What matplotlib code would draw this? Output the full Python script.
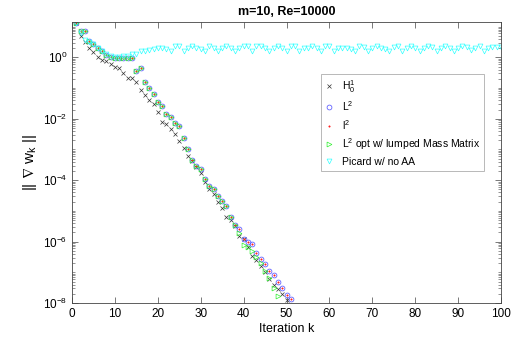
"""
Convergence of ||grad w_k|| for m=10, Re=10000.
"""
import numpy as np
import matplotlib
matplotlib.use('Agg')
import matplotlib.pyplot as plt
from matplotlib.ticker import LogLocator, NullFormatter, FixedLocator

plt.rcParams['font.family'] = ['Liberation Sans', 'DejaVu Sans']
plt.rcParams['mathtext.fontset'] = 'custom'
plt.rcParams['mathtext.rm'] = 'Liberation Sans'
plt.rcParams['mathtext.it'] = 'Liberation Sans'
plt.rcParams['mathtext.default'] = 'regular'

# log10 of ||grad w_k||, iterations start at k=1
h01_log = [1.11, 0.70, 0.49, 0.31, 0.16, 0.02, -0.08, -0.11, -0.22, -0.30,
           -0.36, -0.50, -0.68, -0.68, -0.79, -1.06, -1.22, -1.39, -1.53, -1.79,
           -2.12, -2.18, -2.32, -2.50, -2.72, -2.94, -3.20, -3.37, -3.56, -3.76,
           -4.05, -4.29, -4.45, -4.72, -4.92, -5.20, -5.30, -5.48, -5.81, -5.92,
           -6.17, -6.47, -6.60, -6.79, -6.99, -7.22, -7.41, -7.54, -7.71, -7.90]
L2_log = [1.11, 0.86, 0.86, 0.54, 0.43, 0.30, 0.22, 0.09, 0.02, -0.01,
          -0.01, -0.01, -0.01, -0.03, -0.45, -0.36, -0.79, -1.01, -1.19, -1.44,
          -1.58, -1.85, -1.93, -2.15, -2.22, -2.61, -2.98, -3.34, -3.54, -3.64,
          -3.97, -4.19, -4.29, -4.51, -4.68, -4.84, -5.19, -5.46, -5.60, -5.92,
          -6.00, -6.08, -6.36, -6.58, -6.72, -6.95, -7.08, -7.30, -7.50, -7.75,
          -7.88]
l2_log = [1.11, 0.86, 0.86, 0.54, 0.43, 0.30, 0.22, 0.09, 0.02, -0.01,
          -0.01, -0.01, -0.01, -0.03, -0.45, -0.36, -0.79, -1.01, -1.19, -1.44,
          -1.58, -1.85, -1.93, -2.15, -2.22, -2.61, -2.98, -3.34, -3.54, -3.64,
          -3.97, -4.19, -4.29, -4.51, -4.68, -4.84, -5.19, -5.46, -5.60, -5.92,
          -6.00, -6.08, -6.36, -6.58, -6.72, -6.95, -7.08, -7.30, -7.50, -7.75,
          -7.88]
L2opt_log = [1.11, 0.86, 0.86, 0.54, 0.43, 0.30, 0.22, 0.09, 0.02, -0.01,
             -0.01, -0.01, -0.01, -0.03, -0.45, -0.36, -0.79, -1.01, -1.19, -1.44,
             -1.58, -1.85, -1.93, -2.15, -2.22, -2.61, -2.98, -3.34, -3.54, -3.64,
             -3.97, -4.19, -4.29, -4.51, -4.68, -4.84, -5.19, -5.46, -5.72, -6.12,
             -6.18, -6.30, -6.50, -6.70, -6.95, -7.20, -7.50, -7.78]
picard_log = [1.11, 0.80, 0.55, 0.50, 0.42, 0.32, 0.22, 0.12, 0.05, 0.02,
              0.02, 0.05, 0.05, 0.10, 0.10, 0.20, 0.22, 0.25, 0.27, 0.30,
              0.30, 0.28, 0.22, 0.36, 0.36, 0.22, 0.30, 0.36, 0.30, 0.27,
              0.22, 0.36, 0.30, 0.22, 0.30, 0.36, 0.30, 0.22, 0.30, 0.36,
              0.36, 0.22, 0.36, 0.36, 0.30, 0.22, 0.30, 0.37, 0.30, 0.22,
              0.36, 0.36, 0.22, 0.30, 0.30, 0.37, 0.30, 0.22, 0.36, 0.36,
              0.22, 0.30, 0.30, 0.30, 0.27, 0.22, 0.36, 0.33, 0.22, 0.30,
              0.36, 0.30, 0.27, 0.22, 0.33, 0.36, 0.22, 0.30, 0.36, 0.30,
              0.22, 0.30, 0.36, 0.33, 0.22, 0.30, 0.36, 0.30, 0.22, 0.30,
              0.36, 0.33, 0.24, 0.30, 0.36, 0.22, 0.30, 0.33, 0.33, 0.33]

labels = ['$H^1_0$', '$L^2$', '$l^2$', '$L^2$ opt w/ lumped Mass Matrix', 'Picard w/ no AA']

fig = plt.figure(figsize=(5.31, 3.41), dpi=100)
ax = fig.add_axes([0.1356, 0.1114, 0.808, 0.8241])

series = [
    (h01_log, dict(marker='x', color='#333333', ms=2.5, mew=0.5)),
    (L2_log, dict(marker='o', color='#4a4aff', mfc='none', ms=3.5, mew=0.5)),
    (l2_log, dict(marker='.', color='#ff2020', ms=2.0, mew=0.4)),
    (L2opt_log, dict(marker='>', color='#30f030', mfc='none', ms=3.5, mew=0.5)),
    (picard_log, dict(marker='v', color='#30ffff', mfc='none', ms=3.5, mew=0.5)),
]
for (vals, style), lab in zip(series, labels):
    k = np.arange(1, len(vals) + 1)
    ax.semilogy(k, 10.0 ** np.array(vals), linestyle='none', label=lab, **style)

ax.set_xlim(0, 100)
ax.set_ylim(1e-8, 14.2)
ax.xaxis.set_major_locator(FixedLocator(np.arange(0, 101, 10)))
ax.yaxis.set_major_locator(FixedLocator([1e-8, 1e-6, 1e-4, 1e-2, 1e0]))
ax.yaxis.set_minor_locator(LogLocator(base=10, subs=np.arange(1, 10), numticks=30))
ax.yaxis.set_minor_formatter(NullFormatter())
ax.tick_params(which='both', direction='in', top=True, right=True,
               labelsize=8.5, color='#444444')
ax.tick_params(which='major', length=4, width=0.5)
ax.tick_params(which='minor', length=2, width=0.4)
for sp in ax.spines.values():
    sp.set_linewidth(0.6)
    sp.set_color('#444444')

ax.set_title('m=10, Re=10000', fontsize=9, fontweight='bold', pad=5)
ax.set_xlabel('Iteration k', fontsize=9, labelpad=2)
ax.set_ylabel(r'$||\ \nabla\ w_k\ ||$', fontsize=11, labelpad=3)

leg = ax.legend(loc='upper left', bbox_to_anchor=(0.568, 0.835), fontsize=7.5,
                frameon=True, fancybox=False, edgecolor='#999999',
                handlelength=0.8, handletextpad=0.8, borderpad=0.4,
                labelspacing=0.45, markerscale=1.0)
leg.get_frame().set_linewidth(0.6)

fig.savefig('out.png', dpi=100)
